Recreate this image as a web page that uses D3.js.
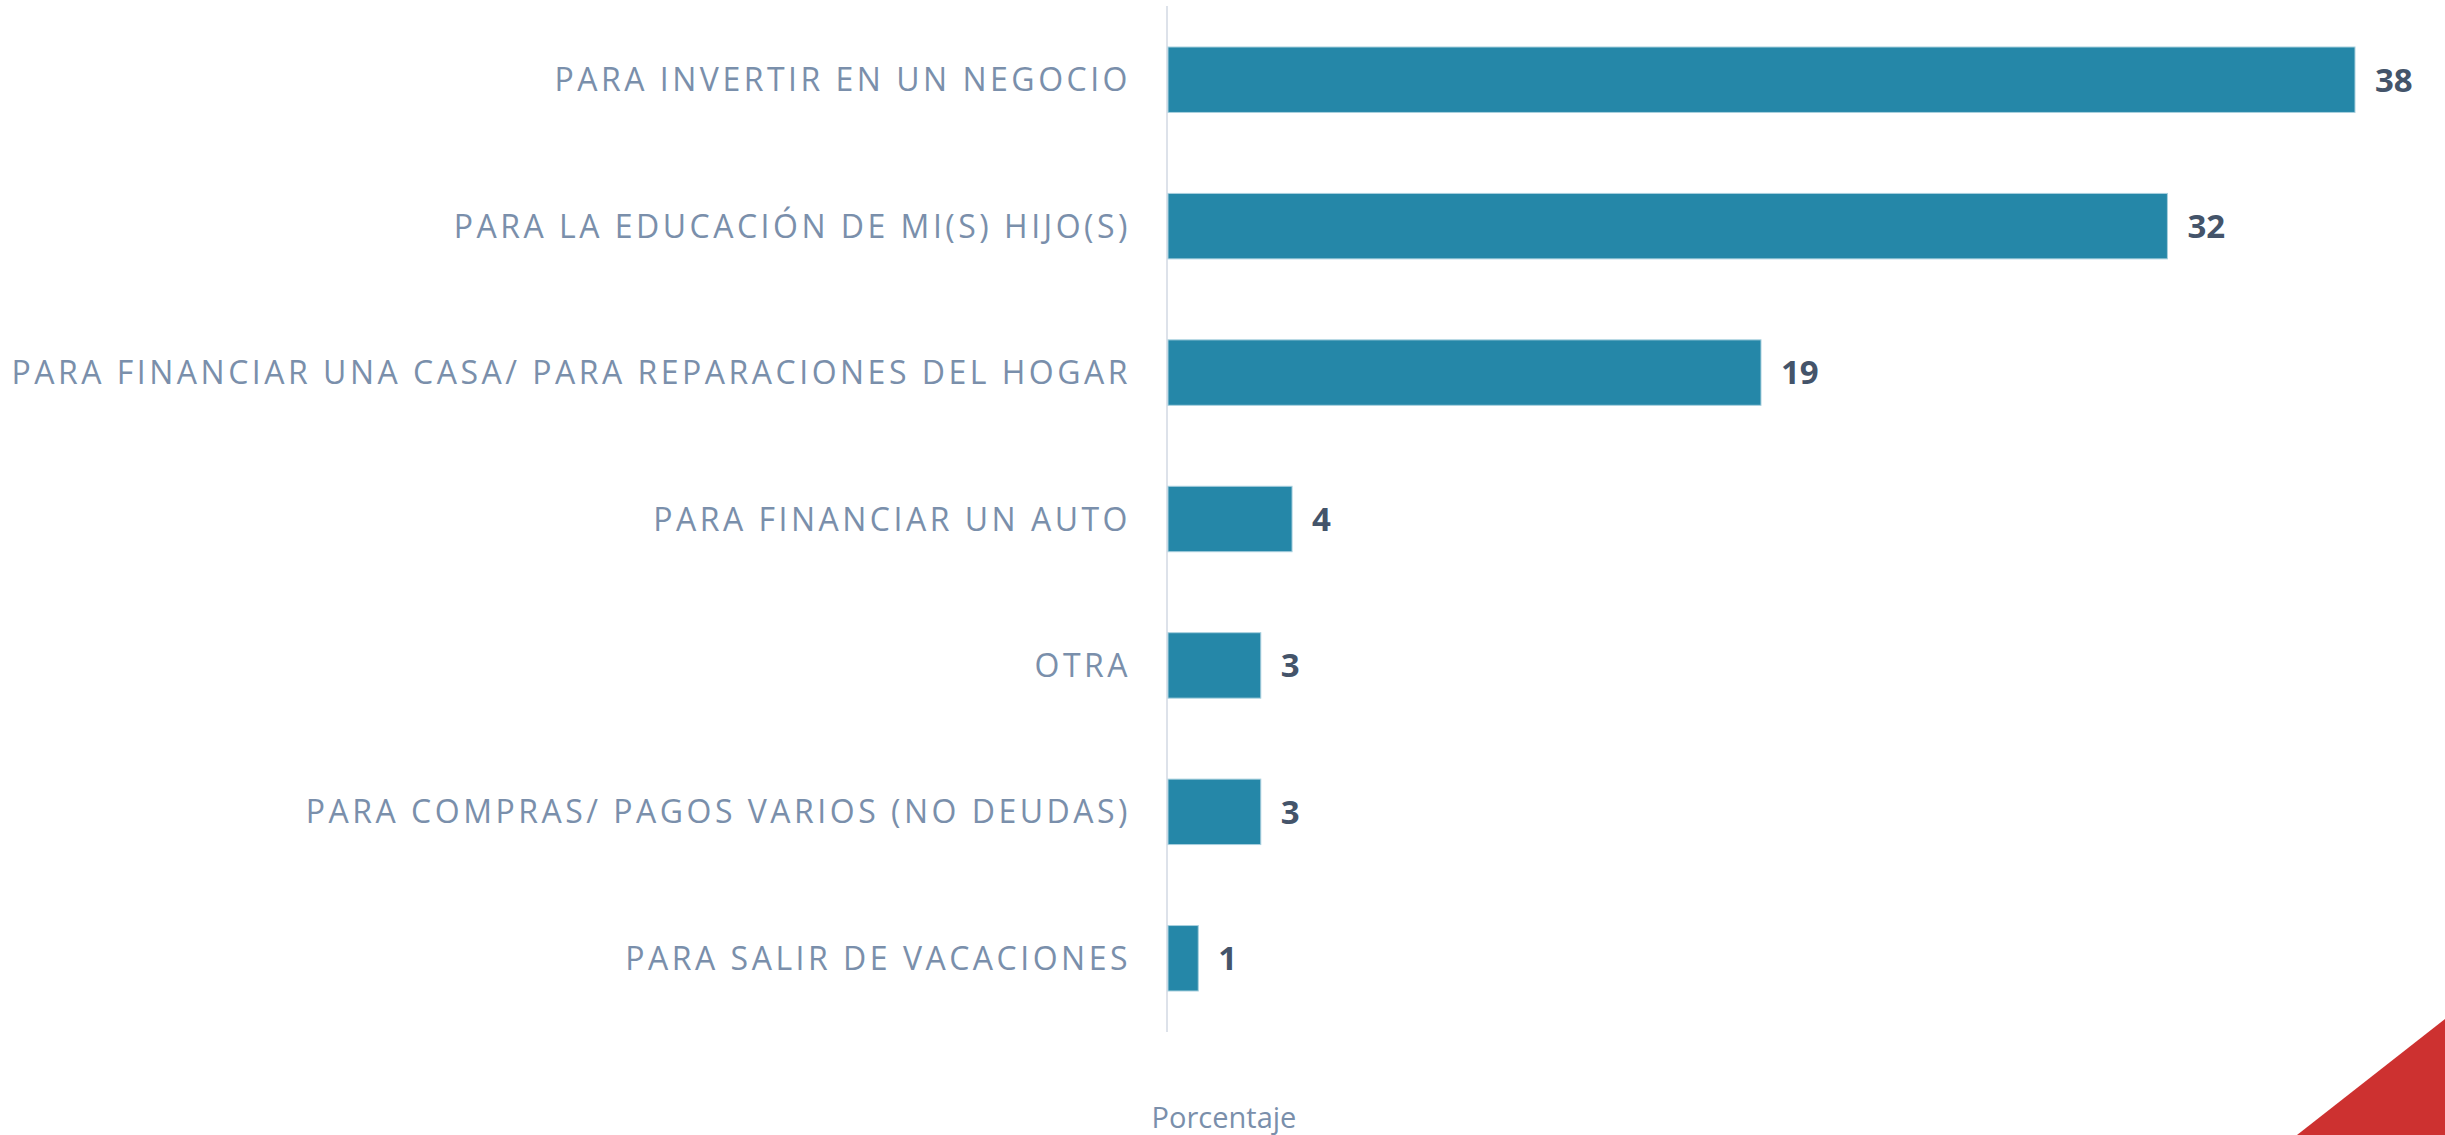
<!DOCTYPE html>
<html>
<head>
<meta charset="utf-8">
<script src="https://cdn.jsdelivr.net/npm/d3@7/dist/d3.min.js"></script>
<style>
  html, body { margin: 0; padding: 0; background: #ffffff; }
  svg { display: block; }
</style>
</head>
<body>
<script>
// Motivos de ahorro (porcentaje)
const categories = [
  "PARA INVERTIR EN UN NEGOCIO",
  "PARA LA EDUCACIÓN DE MI(S) HIJO(S)",
  "PARA FINANCIAR UNA CASA/ PARA REPARACIONES DEL HOGAR",
  "PARA FINANCIAR UN AUTO",
  "OTRA",
  "PARA COMPRAS/ PAGOS VARIOS (NO DEUDAS)",
  "PARA SALIR DE VACACIONES"
];
const values = [38, 32, 19, 4, 3, 3, 1];
const axisTitle = "Porcentaje";

const W = 2445, H = 1135;
const margin = { top: 47, right: 90, bottom: 143, left: 1167 };

const svg = d3.select("body").append("svg")
  .attr("width", W).attr("height", H);

const x = d3.scaleLinear()
  .domain([0, 38])
  .range([margin.left, 2355]);

const y = d3.scaleBand()
  .domain(categories)
  .range([margin.top - 41, 1032])
  .paddingInner(0.553)
  .paddingOuter(0.28);

// red corner accent
svg.append("path")
  .attr("d", `M${W},${1019} L${W},${H} L${2297},${H} Z`)
  .attr("fill", "#cd3130");

// vertical category axis line
svg.append("line")
  .attr("x1", margin.left).attr("x2", margin.left)
  .attr("y1", 6).attr("y2", 1032)
  .attr("stroke", "#dde2ea").attr("stroke-width", 2);

// bars
svg.append("g").selectAll("rect")
  .data(values)
  .join("rect")
  .attr("x", x(0) + 1)
  .attr("y", (d, i) => y(categories[i]))
  .attr("width", d => x(d) - x(0) - 1)
  .attr("height", y.bandwidth())
  .attr("fill", "#2587a8")
  .attr("stroke", "#a9d0de")
  .attr("stroke-width", 1);

// value labels
svg.append("g").selectAll("text")
  .data(values)
  .join("text")
  .attr("x", d => x(d) + 20)
  .attr("y", (d, i) => y(categories[i]) + y.bandwidth() / 2)
  .attr("dy", "0.36em")
  .attr("font-family", "Open Sans, sans-serif")
  .attr("font-weight", 700)
  .attr("font-size", 33)
  .attr("fill", "#44546a")
  .text(d => d);

// category labels
const yAxis = d3.axisLeft(y).tickSize(0).tickPadding(36);
const gy = svg.append("g")
  .attr("transform", `translate(${margin.left},0)`)
  .call(yAxis);
gy.select(".domain").remove();
gy.selectAll("text")
  .attr("font-family", "Open Sans, sans-serif")
  .attr("font-size", 32)
  .attr("fill", "#7a8fab")
  .attr("letter-spacing", "3.5px")
  .attr("dy", "0.36em");

// axis title
svg.append("text")
  .attr("x", 1224)
  .attr("y", 1128)
  .attr("text-anchor", "middle")
  .attr("font-family", "Open Sans, sans-serif")
  .attr("font-size", 29)
  .attr("fill", "#7a8fab")
  .text(axisTitle);
</script>
</body>
</html>
